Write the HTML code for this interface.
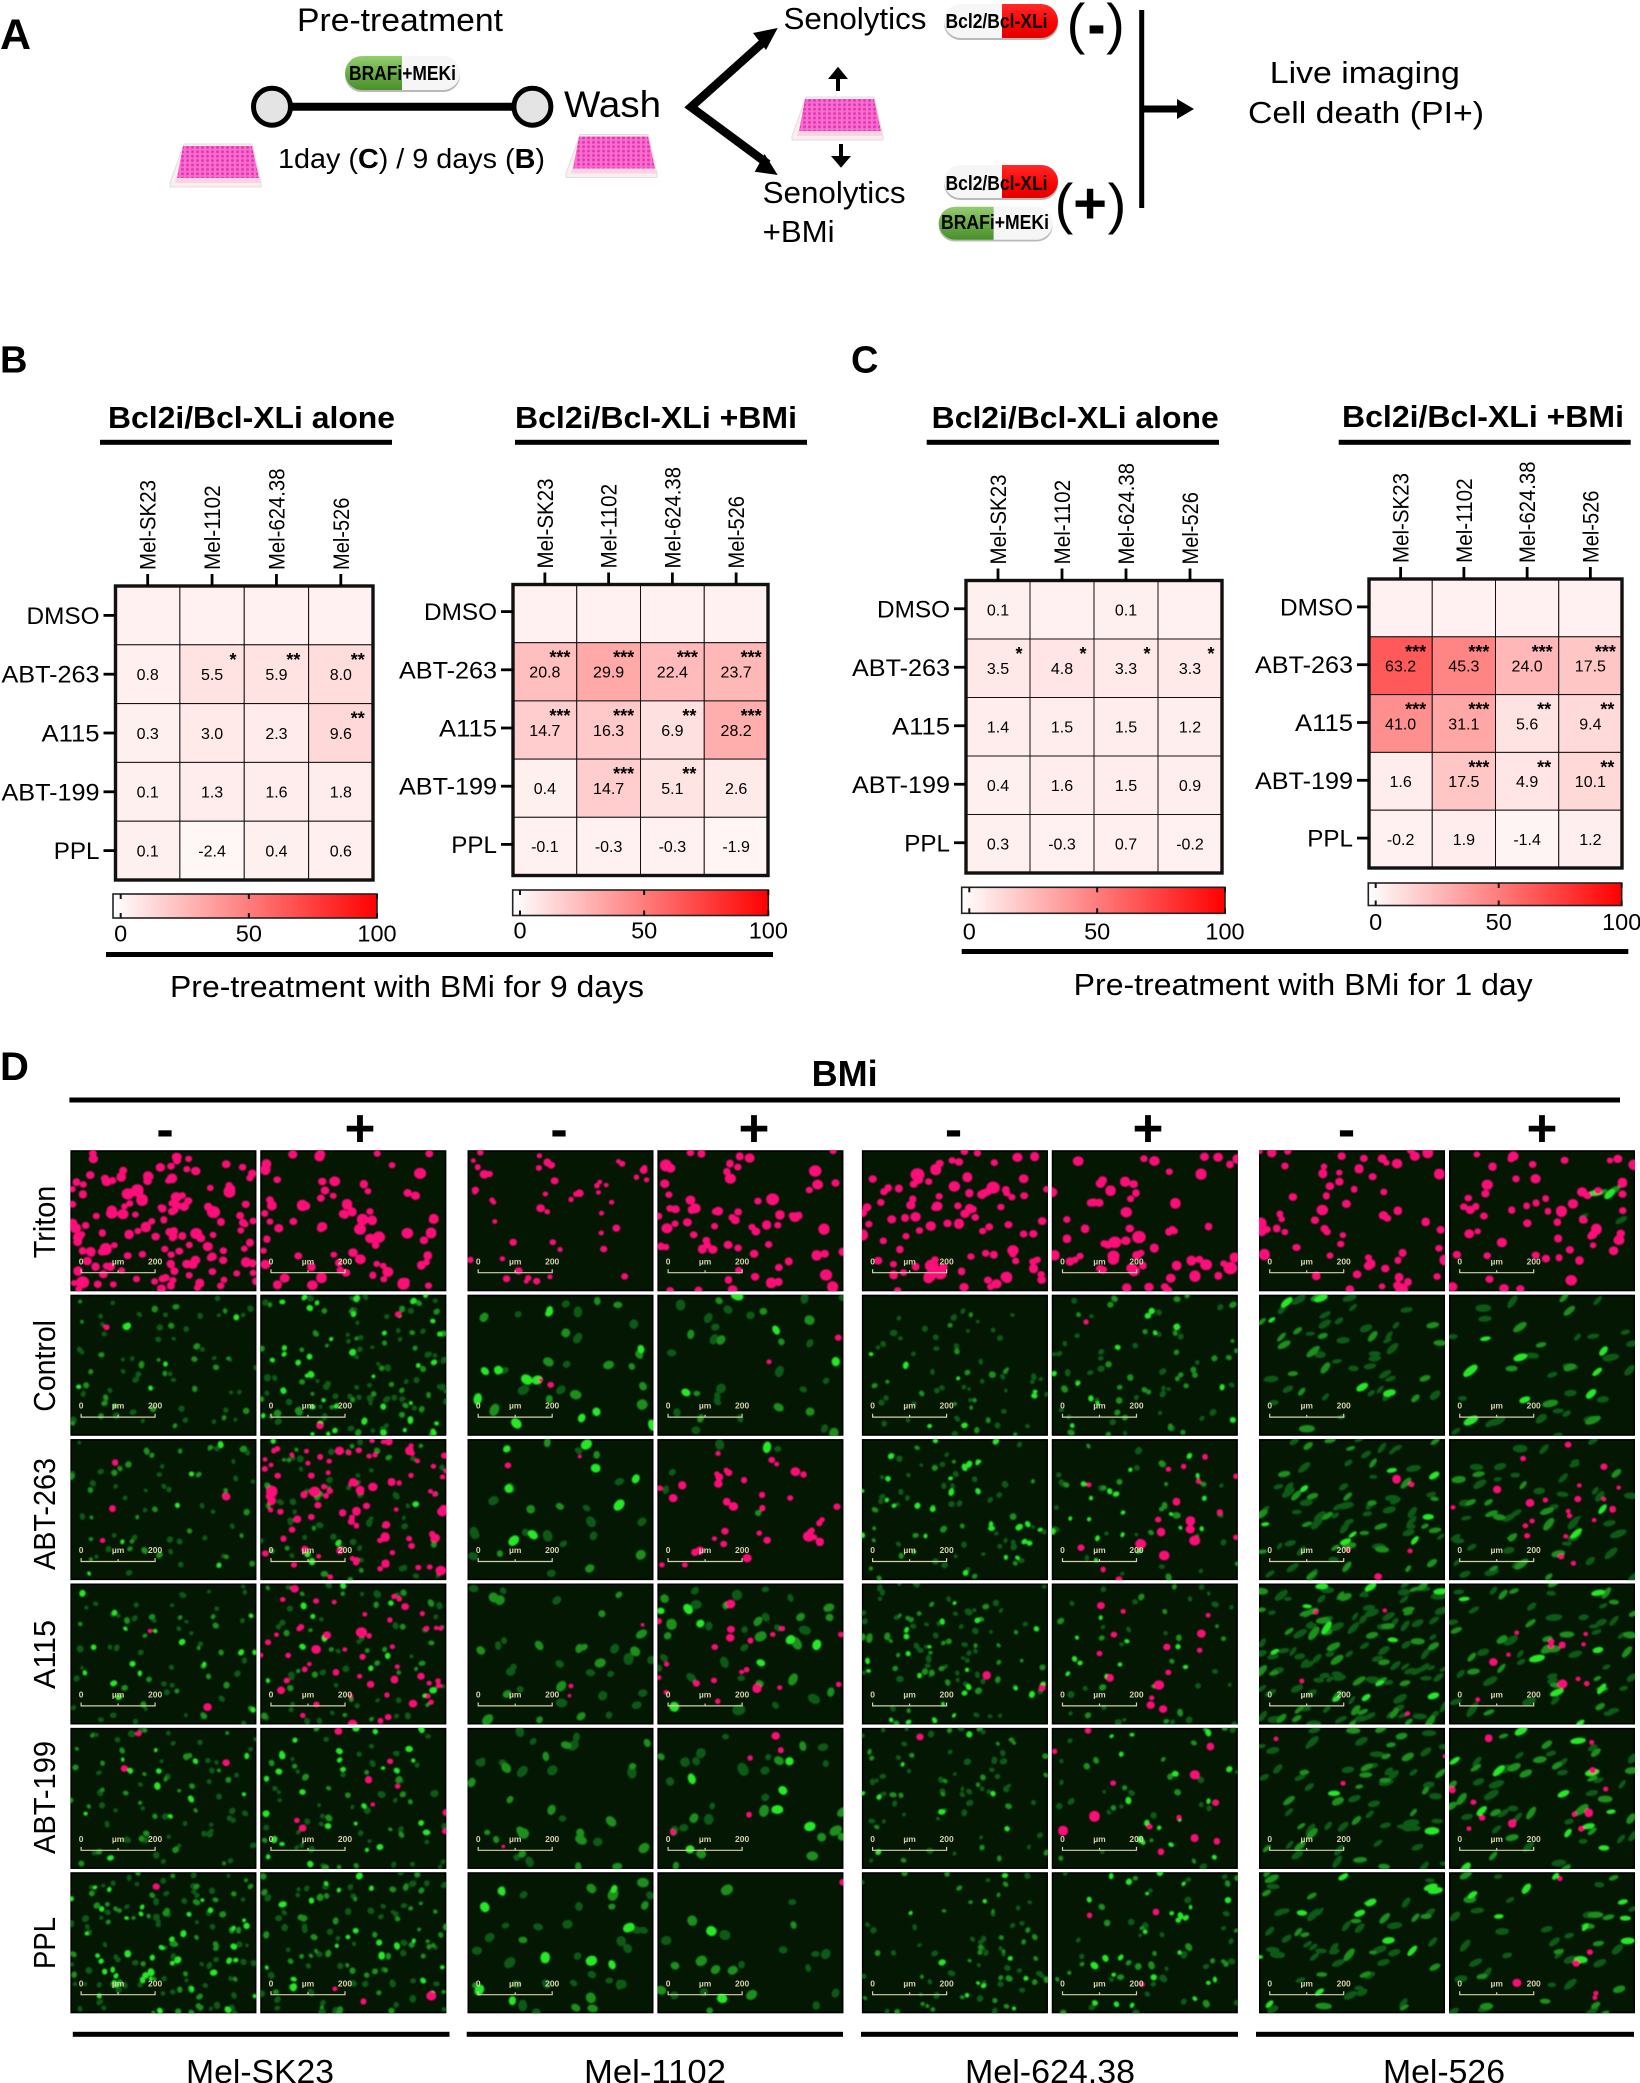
<!DOCTYPE html>
<html lang="en">
<head>
<meta charset="utf-8">
<title>Senolytic treatment after BRAFi+MEKi pre-treatment</title>
<style>
html,body{margin:0;padding:0;background:#fff;width:1640px;height:2083px;overflow:hidden}
svg{display:block}
text{font-family:"Liberation Sans",Arial,sans-serif;fill:#000}
</style>
</head>
<body>
<svg id="figure" xmlns="http://www.w3.org/2000/svg" width="1640" height="2083" viewBox="0 0 1640 2083">
<defs>
<pattern id="wells" width="5" height="4.4" patternUnits="userSpaceOnUse"><rect width="5" height="4.4" fill="#fb6ccf"/><circle cx="2.5" cy="2.2" r="1.5" fill="#e03ab2"/></pattern>
<linearGradient id="cbGrad" x1="0" x2="1" y1="0" y2="0"><stop offset="0" stop-color="#fff"/><stop offset="1" stop-color="#f00"/></linearGradient>
<linearGradient id="greenPill" x1="0" x2="0" y1="0" y2="1"><stop offset="0" stop-color="#94cc70"/><stop offset=".55" stop-color="#66ab42"/><stop offset="1" stop-color="#4b8f2c"/></linearGradient>
<linearGradient id="redPill" x1="0" x2="0" y1="0" y2="1"><stop offset="0" stop-color="#ff2a2a"/><stop offset=".6" stop-color="#f00"/><stop offset="1" stop-color="#e00000"/></linearGradient>
<filter id="soft" x="-5%" y="-5%" width="110%" height="110%"><feGaussianBlur stdDeviation=".75"/></filter>
</defs>

<!-- Panel letters -->
<text x="0" y="49" font-size="43" font-weight="700">A</text>
<text x="0" y="372.500" font-size="38" font-weight="700">B</text>
<text x="851" y="372.500" font-size="38" font-weight="700">C</text>
<text x="0" y="1080" font-size="40" font-weight="700">D</text>

<!-- Panel A schematic -->
<g>
<text x="297" y="31" font-size="32" textLength="206" lengthAdjust="spacingAndGlyphs">Pre-treatment</text>
<g>
<rect x="345" y="59" width="115" height="33" rx="16.5" fill="#b9b9b9"/>
<rect x="345" y="56" width="115" height="34" rx="17" fill="#f6f6f6"/>
<path d="M402 56H362a17 17 0 0 0 0 34h40z" fill="url(#greenPill)"/>
<text x="349" y="80" font-size="20" font-weight="700" fill="#111" textLength="107" lengthAdjust="spacingAndGlyphs">BRAFi+MEKi</text>
</g>
<line x1="272" y1="106.7" x2="532" y2="106.7" stroke="#000" stroke-width="8"/>
<circle cx="272" cy="106.7" r="18.5" fill="#e4e4e4" stroke="#000" stroke-width="5"/>
<circle cx="532.4" cy="106.7" r="18.5" fill="#e4e4e4" stroke="#000" stroke-width="5"/>
<text x="564" y="117" font-size="37" textLength="97" lengthAdjust="spacingAndGlyphs">Wash</text>
<text x="278" y="168" font-size="28" textLength="267" lengthAdjust="spacingAndGlyphs">1day (<tspan font-weight="700">C</tspan>) / 9 days (<tspan font-weight="700">B</tspan>)</text>

<g transform="translate(0,0)">
<polygon points="184,144 252,144 261,183 261,187 170,187 170,183" fill="#f9efef" stroke="#e3dcdc"/>
<polygon points="183,146 252,146 259,178 177,178" fill="url(#wells)"/>
<polygon points="176,178 260,178 261,183 175,183" fill="#fbd4e4"/>
</g>
<g transform="translate(396,-9.5)">
<polygon points="184,144 252,144 261,183 261,187 170,187 170,183" fill="#f9efef" stroke="#e3dcdc"/>
<polygon points="183,146 252,146 259,178 177,178" fill="url(#wells)"/>
<polygon points="176,178 260,178 261,183 175,183" fill="#fbd4e4"/>
</g>
<g transform="translate(622,-47)">
<polygon points="184,144 252,144 261,183 261,187 170,187 170,183" fill="#f9efef" stroke="#e3dcdc"/>
<polygon points="183,146 252,146 259,178 177,178" fill="url(#wells)"/>
<polygon points="176,178 260,178 261,183 175,183" fill="#fbd4e4"/>
</g>

<polyline points="768,38 691,107 768,164" fill="none" stroke="#000" stroke-width="8.5"/>
<polygon points="777.7,28 753,33 766,50" fill="#000"/>
<polygon points="777.7,175 764.6,154 754.7,171.7" fill="#000"/>

<text x="783.5" y="29" font-size="31" textLength="143" lengthAdjust="spacingAndGlyphs">Senolytics</text>
<text x="762.6" y="203" font-size="31" textLength="143" lengthAdjust="spacingAndGlyphs">Senolytics</text>
<text x="762.6" y="242" font-size="31" textLength="72" lengthAdjust="spacingAndGlyphs">+BMi</text>

<g><polygon points="838,66.7 828,79 848,79" fill="#000"/><rect x="836" y="78" width="4" height="13" fill="#000"/></g>
<g><polygon points="841,167.7 831,156 851,156" fill="#000"/><rect x="839" y="144" width="4" height="13" fill="#000"/></g>

<g>
<rect x="944" y="7" width="114" height="33" rx="16.5" fill="#b9b9b9"/>
<rect x="944" y="4" width="114" height="34" rx="17" fill="#f6f6f6"/>
<path d="M1002 4h39a17 17 0 0 1 0 34h-39z" fill="url(#redPill)"/>
<text x="945.5" y="28" font-size="20" font-weight="700" fill="#111" textLength="102" lengthAdjust="spacingAndGlyphs">Bcl2/Bcl-XLi</text>
</g>
<g>
<rect x="944" y="168" width="114" height="32" rx="16" fill="#b9b9b9"/>
<rect x="944" y="165" width="114" height="33" rx="16.5" fill="#f6f6f6"/>
<path d="M1002 165h39.500a16.500 16.500 0 0 1 0 33h-39.500z" fill="url(#redPill)"/>
<text x="945.5" y="190" font-size="20" font-weight="700" fill="#111" textLength="102" lengthAdjust="spacingAndGlyphs">Bcl2/Bcl-XLi</text>
</g>
<g>
<rect x="938.700" y="209.500" width="114" height="32" rx="16" fill="#b9b9b9"/>
<rect x="938.700" y="206.700" width="114" height="33" rx="16.500" fill="#f6f6f6"/>
<path d="M993.600 206.700h-38.400a16.500 16.500 0 0 0 0 33h38.400z" fill="url(#greenPill)"/>
<text x="941" y="229" font-size="20" font-weight="700" fill="#111" textLength="108" lengthAdjust="spacingAndGlyphs">BRAFi+MEKi</text>
</g>

<g>
<text x="1076" y="43" font-size="56" text-anchor="middle">(</text>
<text x="1096.500" y="47" font-size="68" font-weight="700" text-anchor="middle" textLength="18" lengthAdjust="spacingAndGlyphs">-</text>
<text x="1115.500" y="43" font-size="56" text-anchor="middle">)</text>
</g>
<g>
<text x="1064" y="223" font-size="56" text-anchor="middle">(</text>
<text x="1090" y="223" font-size="58" font-weight="700" text-anchor="middle">+</text>
<text x="1117" y="223" font-size="56" text-anchor="middle">)</text>
</g>

<rect x="1139.200" y="10" width="5" height="198" fill="#000"/>
<g><rect x="1141" y="105.500" width="38" height="7" fill="#000"/><polygon points="1194,109 1177,99 1177,119" fill="#000"/></g>
<text x="1269.800" y="83" font-size="31" textLength="190" lengthAdjust="spacingAndGlyphs">Live imaging</text>
<text x="1248" y="123" font-size="31" textLength="236" lengthAdjust="spacingAndGlyphs">Cell death (PI+)</text>
</g>

<!-- Panels B and C headings -->
<text x="108" y="428" font-size="31" font-weight="700" textLength="287" lengthAdjust="spacingAndGlyphs">Bcl2i/Bcl-XLi alone</text>
<rect x="100" y="439.800" width="292" height="5" fill="#000"/>
<text x="515" y="428" font-size="31" font-weight="700" textLength="282" lengthAdjust="spacingAndGlyphs">Bcl2i/Bcl-XLi +BMi</text>
<rect x="515" y="439.800" width="292" height="5" fill="#000"/>
<text x="931.700" y="428" font-size="31" font-weight="700" textLength="287" lengthAdjust="spacingAndGlyphs">Bcl2i/Bcl-XLi alone</text>
<rect x="926.700" y="439.800" width="292.300" height="5" fill="#000"/>
<text x="1342" y="427" font-size="31" font-weight="700" textLength="282" lengthAdjust="spacingAndGlyphs">Bcl2i/Bcl-XLi +BMi</text>
<rect x="1338.700" y="439.800" width="292" height="5" fill="#000"/>

<rect x="106" y="952" width="667" height="5" fill="#000"/>
<text x="170" y="997" font-size="31" textLength="474" lengthAdjust="spacingAndGlyphs">Pre-treatment with BMi for 9 days</text>
<rect x="961.700" y="949" width="666.600" height="5" fill="#000"/>
<text x="1073.700" y="995" font-size="31" textLength="459" lengthAdjust="spacingAndGlyphs">Pre-treatment with BMi for 1 day</text>

<g id="heatmaps"></g>

<!-- Panel D headings -->
<text x="844.600" y="1086" font-size="36" font-weight="700" text-anchor="middle">BMi</text>
<rect x="69.400" y="1097.500" width="1550.600" height="5" fill="#000"/>
<text x="165" y="1147" font-size="52" font-weight="700" text-anchor="middle">-</text>
<text x="360" y="1146" font-size="53" font-weight="700" text-anchor="middle">+</text>
<text x="559" y="1147" font-size="52" font-weight="700" text-anchor="middle">-</text>
<text x="754" y="1146" font-size="53" font-weight="700" text-anchor="middle">+</text>
<text x="953.500" y="1147" font-size="52" font-weight="700" text-anchor="middle">-</text>
<text x="1148" y="1146" font-size="53" font-weight="700" text-anchor="middle">+</text>
<text x="1346.600" y="1147" font-size="52" font-weight="700" text-anchor="middle">-</text>
<text x="1542" y="1146" font-size="53" font-weight="700" text-anchor="middle">+</text>

<text transform="translate(55,1258.300) rotate(-90)" font-size="31" textLength="72.600" lengthAdjust="spacingAndGlyphs">Triton</text>
<text transform="translate(55,1411.700) rotate(-90)" font-size="31" textLength="91.700" lengthAdjust="spacingAndGlyphs">Control</text>
<text transform="translate(55,1570) rotate(-90)" font-size="31" textLength="112" lengthAdjust="spacingAndGlyphs">ABT-263</text>
<text transform="translate(55,1689) rotate(-90)" font-size="31" textLength="69" lengthAdjust="spacingAndGlyphs">A115</text>
<text transform="translate(55,1854) rotate(-90)" font-size="31" textLength="113" lengthAdjust="spacingAndGlyphs">ABT-199</text>
<text transform="translate(55,1969) rotate(-90)" font-size="31" textLength="52" lengthAdjust="spacingAndGlyphs">PPL</text>

<g id="micrographs"></g>

<rect x="72.800" y="2031.800" width="376.700" height="5" fill="#000"/>
<rect x="466.700" y="2031.800" width="376.300" height="5" fill="#000"/>
<rect x="861" y="2031.800" width="377" height="5" fill="#000"/>
<rect x="1256" y="2031.800" width="378" height="5" fill="#000"/>
<text x="186" y="2083" font-size="33" textLength="148" lengthAdjust="spacingAndGlyphs">Mel-SK23</text>
<text x="584" y="2083" font-size="33" textLength="142" lengthAdjust="spacingAndGlyphs">Mel-1102</text>
<text x="965" y="2083" font-size="33" textLength="170" lengthAdjust="spacingAndGlyphs">Mel-624.38</text>
<text x="1383" y="2083" font-size="33" textLength="122" lengthAdjust="spacingAndGlyphs">Mel-526</text>
</svg>

<script>
// ---- Heatmap data ----
const cellLines = ['Mel-SK23', 'Mel-1102', 'Mel-624.38', 'Mel-526'];
const treatments = ['DMSO', 'ABT-263', 'A115', 'ABT-199', 'PPL'];
const colorbarTicks = [0, 50, 100];
const colorbarDomain = [-6, 100];

const valuesB9Alone = [[null, null, null, null], [0.8, 5.5, 5.9, 8.0], [0.3, 3.0, 2.3, 9.6], [0.1, 1.3, 1.6, 1.8], [0.1, -2.4, 0.4, 0.6]];
const starsB9Alone = [['', '', '', ''], ['', '*', '**', '**'], ['', '', '', '**'], ['', '', '', ''], ['', '', '', '']];
const valuesB9Combo = [[null, null, null, null], [20.8, 29.9, 22.4, 23.7], [14.7, 16.3, 6.9, 28.2], [0.4, 14.7, 5.1, 2.6], [-0.1, -0.3, -0.3, -1.9]];
const starsB9Combo = [['', '', '', ''], ['***', '***', '***', '***'], ['***', '***', '**', '***'], ['', '***', '**', ''], ['', '', '', '']];
const valuesC1Alone = [[0.1, null, 0.1, null], [3.5, 4.8, 3.3, 3.3], [1.4, 1.5, 1.5, 1.2], [0.4, 1.6, 1.5, 0.9], [0.3, -0.3, 0.7, -0.2]];
const starsC1Alone = [['', '', '', ''], ['*', '*', '*', '*'], ['', '', '', ''], ['', '', '', ''], ['', '', '', '']];
const valuesC1Combo = [[null, null, null, null], [63.2, 45.3, 24.0, 17.5], [41.0, 31.1, 5.6, 9.4], [1.6, 17.5, 4.9, 10.1], [-0.2, 1.9, -1.4, 1.2]];
const starsC1Combo = [['', '', '', ''], ['***', '***', '***', '***'], ['***', '***', '**', '**'], ['', '***', '**', '**'], ['', '', '', '']];

// ---- Micrograph density maps: dots per cell of a 6x4 grid ----
const pinkDensity = [
 '564715/465934/965966/754996','010000/000000/000000/000000','010000/010001/010000/000000','000000/001000/000000/000010','001001/010000/000000/000000','001000/000000/000000/000000',
 '341212/336413/433414/333533','000010/000000/000000/010000','544544/545454/333333/133333','121131/232223/321324/122132','001010/000110/020102/000000','000000/000000/000000/001101',
 '605044/403340/112030/152001','000000/000000/002000/000000','010100/000000/000000/000000','000000/000001/000100/000100','000000/000000/000000/010000','000000/000000/000000/000000',
 '326004/453340/562605/113412','000000/000101/000000/000000','022210/323221/012234/221000','001000/112211/222201/110000','001200/000000/101000/000000','000001/000000/000000/000000',
 '134413/654862/333353/157365','000000/000000/000000/000000','000000/000000/000000/000000','000000/000000/000011/000000','010000/000000/000000/000000','000000/000000/000000/000000',
 '123223/243100/246401/334454','010000/000000/000000/000000','000120/010021/001232/111100','011001/011120/010200/000300','110001/010010/110111/000111','000000/010100/000000/001000',
 '405433/224140/625013/011562','000000/000000/000000/000000','000000/000020/000000/001110','010010/000000/010000/000010','100001/001000/000000/000000','000000/000000/000000/000000',
 '125104/423462/322343/121310','000000/000000/000000/000000','001110/111123/003310/000110','000000/001320/020120/100000','010010/100011/211030/000000','000100/000000/000020/001020'
];
const greenDensity = [
 '0','343443/333332/433323/333333','333343/323333/333323/332222','333333/344443/333333/223333','444444/344443/344444/334333','566665/666666/677877/677867',
 '0','344555/445667/556777/566777','343322/343322/343322/343322','333333/333333/333333/333333','343443/444443/444443/443433','455555/455555/455565/554455',
 '0','112221/001312/332202/110112','011220/122121/222211/111101','221020/211212/021222/121222','222301/121002/131210/121221','130233/121113/111221/232331',
 '0','132221/121211/121111/131112','101200/100000/000100/000000','322222/222331/212210/101102','221221/111211/230212/120012','001010/121010/122022/221102',
 '0','013310/332420/323756/222541','135511/667331/422267/222542','463421/679832/349943/234322','443561/645661/323221/212213','111342/221345/233674/234664',
 '0','221332/432434/544652/434322','013110/452331/334242/022211','122223/223122/331222/222221','223123/122222/222322/112221','132344/113544/334544/233333',
 '0','444221/243331/222543/111000','133441/344333/355455/344211','545666/557566/566666/566665','230453/232454/233453/232213','411213/451334/345431/222220',
 '000000/000033/000000/000000','022210/113033/202431/222420','211131/423331/333432/332212','322333/232444/322343/211222','213332/342342/343233/112222','321112/220344/230331/220322'
];
const brightShare = [0, .1, .05, .22, .16, .22, 0, .25, .16, .16, .22, .2, 0, .25, .2, .06, .1, .2, 0, .12, .2, .22, .12, .12, 0, .12, .35, .3, .16, .1, 0, .12, .38, .2, .32, .38, 0, .06, .1, .12, .05, .22, .5, .32, .08, .1, .22, .16];

const NS = 'http://www.w3.org/2000/svg';
function make(tag, parent) {
  const node = document.createElementNS(NS, tag);
  parent.appendChild(node);
  return node;
}
function setAll(node, props) {
  for (const key in props) node.setAttribute(key, props[key]);
}

// ---- Scales ----
function cellColor(v) {
  const t = ((v === null ? 0 : v) - colorbarDomain[0]) / (colorbarDomain[1] - colorbarDomain[0]);
  const c = Math.round(255 * (1 - t));
  return 'rgb(255,' + c + ',' + c + ')';
}
function linearScale(d0, d1, r0, r1) {
  return function (v) { return r0 + (v - d0) / (d1 - d0) * (r1 - r0); };
}

function drawHeatmap(spec, values, stars) {
  const host = document.getElementById('heatmaps');
  const group = make('g', host);
  
  
  group.setAttribute('aria-label', spec.label);
  const colBand = (spec.x1 - spec.x0) / cellLines.length;
  const rowBand = (spec.y1 - spec.y0) / treatments.length;
  const xAxis = linearScale(0, cellLines.length, spec.x0, spec.x1);
  const yAxis = linearScale(0, treatments.length, spec.y0, spec.y1);

  values.forEach(function (row, r) {
    row.forEach(function (v, c) {
      const cell = make('rect', group);
      
      
      setAll(cell, { x: xAxis(c), y: yAxis(r), width: colBand, height: rowBand, fill: cellColor(v), stroke: '#111', 'stroke-width': 1 });
      const cx = xAxis(c + .5), cy = yAxis(r + .5);
      if (v !== null) {
        const label = make('text', group);
        
        
        setAll(label, { x: cx, y: cy + 5.8, 'font-size': 16, 'text-anchor': 'middle' });
        label.textContent = v.toFixed(1);
      }
      if (stars[r][c]) {
        const mark = make('text', group);
        
        
        const shift = { 1: 21, 2: 17, 3: 15 }[stars[r][c].length];
        setAll(mark, { x: cx + shift, y: yAxis(r) + 21, 'font-size': 18, 'font-weight': 700, 'text-anchor': 'middle' });
        mark.textContent = stars[r][c];
      }
    });
  });

  const frame = make('rect', group);
  
  
  setAll(frame, { x: spec.x0, y: spec.y0, width: spec.x1 - spec.x0, height: spec.y1 - spec.y0, fill: 'none', stroke: '#111', 'stroke-width': 3.4 });

  const rowLabelLength = [73, 98, 58, 98, 45.7];
  treatments.forEach(function (name, r) {
    const tick = make('line', group);
    
    
    const cy = yAxis(r + .5) - spec.labelLift;
    setAll(tick, { x1: spec.x0 - 12, x2: spec.x0, y1: cy, y2: cy, stroke: '#000', 'stroke-width': 2.8 });
    const label = make('text', group);
    
    
    setAll(label, { x: spec.x0 - 16 - rowLabelLength[r], y: cy + 8.5, 'font-size': 24.5, textLength: rowLabelLength[r], lengthAdjust: 'spacingAndGlyphs' });
    label.textContent = name;
  });

  const columnLabelLength = [90, 84.6, 101.5, 72.4];
  cellLines.forEach(function (name, c) {
    const cx = xAxis(c + .5);
    const tick = make('line', group);
    
    
    setAll(tick, { x1: cx, x2: cx, y1: spec.y0 - 12, y2: spec.y0, stroke: '#000', 'stroke-width': 2.8 });
    const label = make('text', group);
    
    
    setAll(label, { transform: 'translate(' + (cx + 8) + ',' + (spec.y0 - 16) + ') rotate(-90)', 'font-size': 22.5, textLength: columnLabelLength[c], lengthAdjust: 'spacingAndGlyphs' });
    label.textContent = name;
  });

  const bar = make('rect', group);
  
  
  setAll(bar, { x: spec.barX0, y: spec.barY0, width: spec.barX1 - spec.barX0, height: spec.barY1 - spec.barY0, fill: 'url(#cbGrad)', stroke: '#222', 'stroke-width': 1.6 });
  const barAxis = linearScale(0, 100, spec.bar0, spec.barX1);
  colorbarTicks.forEach(function (t) {
    const x = barAxis(t);
    const top = make('line', group);
    
    
    setAll(top, { x1: x, x2: x, y1: spec.barY0, y2: spec.barY0 + 5, stroke: '#111', 'stroke-width': 2 });
    const bottom = make('line', group);
    
    
    setAll(bottom, { x1: x, x2: x, y1: spec.barY1 - 5, y2: spec.barY1, stroke: '#111', 'stroke-width': 2 });
    const label = make('text', group);
    
    
    setAll(label, { x: x, y: spec.barLabelY + 8.5, 'font-size': 23.5, 'text-anchor': 'middle' });
    label.textContent = String(t);
  });
}

drawHeatmap({ label: 'B alone', x0: 115.5, x1: 373, y0: 586, y1: 880, labelLift: 0, bar0: 120.7, barX0: 113, barX1: 377, barY0: 894, barY1: 918, barLabelY: 933 }, valuesB9Alone, starsB9Alone);
drawHeatmap({ label: 'B combination', x0: 513, x1: 768, y0: 584.5, y1: 875.5, labelLift: 2, bar0: 520, barX0: 512.7, barX1: 768.3, barY0: 890, barY1: 915.5, barLabelY: 930 }, valuesB9Combo, starsB9Combo);
drawHeatmap({ label: 'C alone', x0: 966, x1: 1222, y0: 580.5, y1: 873, labelLift: 1, bar0: 969.3, barX0: 961.7, barX1: 1225, barY0: 887.3, barY1: 913.3, barLabelY: 931 }, valuesC1Alone, starsC1Alone);
drawHeatmap({ label: 'C combination', x0: 1369, x1: 1622, y0: 579, y1: 868, labelLift: 1, bar0: 1375.7, barX0: 1368.3, barX1: 1621.7, barY0: 883, barY1: 905.5, barLabelY: 921.5 }, valuesC1Combo, starsC1Combo);

// ---- Micrographs ----
const panelLeft = [70.4, 260.3, 467.5, 657.4, 861.9, 1051.8, 1259, 1449];
const panelTop = 1150.3, panelPitch = 144.4, panelW = 186, panelH = 141;
const greenSize = [2.3, 2.4, 3.6, 3.6, 2.2, 2.3, 2.6, 2.7];
const greenStretch = [1.2, 1.2, 1.3, 1.3, 1.25, 1.25, 2.2, 2.2];
const pinkSize = [1, 1, .72, 1.05, 1.05, 1.05, .95, .95];
let seed = 91357;
function nextRand() {
  seed = (seed * 1664525 + 1013904223) % 4294967296;
  return seed / 4294967296;
}
function blob(x, y, rx, ry, deg) {
  const t = deg * Math.PI / 180, dx = rx * Math.cos(t), dy = rx * Math.sin(t);
  return 'M' + (x - dx).toFixed(1) + ' ' + (y - dy).toFixed(1) +
    'A' + rx.toFixed(1) + ' ' + ry.toFixed(1) + ' ' + deg.toFixed(0) + ' 1 0 ' + (x + dx).toFixed(1) + ' ' + (y + dy).toFixed(1) +
    'A' + rx.toFixed(1) + ' ' + ry.toFixed(1) + ' ' + deg.toFixed(0) + ' 1 0 ' + (x - dx).toFixed(1) + ' ' + (y - dy).toFixed(1) + 'Z';
}
function forEachDot(map, visit) {
  const digits = map.replace(/\//g, '');
  for (let i = 0; i < digits.length; i++) {
    const n = +digits[i];
    const col = i % 6, row = Math.floor(i / 6);
    for (let k = 0; k < n; k++) {
      visit((col + nextRand()) * panelW / 6, (row + nextRand()) * panelH / 4);
    }
  }
}
const gridHost = document.getElementById('micrographs');
panelLeft.forEach(function (left, c) {
  for (let r = 0; r < 6; r++) {
    const idx = c * 6 + r;
    const panel = make('svg', gridHost);
    
    
    setAll(panel, { x: left, y: panelTop + r * panelPitch, width: panelW, height: panelH, viewBox: '0 0 ' + panelW + ' ' + panelH });
    const bg = make('rect', panel);
    
    
    setAll(bg, { width: panelW, height: panelH, fill: '#031703', stroke: '#000', 'stroke-width': 3 });

    const dim = [], mid = [], bright = [], pink = [];
    forEachDot(greenDensity[idx], function (x, y) {
      const rad = greenSize[c] * (.75 + .55 * nextRand());
      const stretch = greenStretch[c] * (.85 + .3 * nextRand());
      const deg = c >= 6 ? -25 + 30 * (nextRand() - .5) * 2 : nextRand() * 180;
      const roll = nextRand();
      const shape = blob(x, y, rad * stretch, rad, deg);
      if (roll < brightShare[idx]) bright.push(shape);
      else if (roll < brightShare[idx] + (1 - brightShare[idx]) * .4) mid.push(shape);
      else dim.push(shape);
    });
    forEachDot(pinkDensity[idx], function (x, y) {
      const big = r === 0 ? 3.1 : 2.2;
      const rad = (big + nextRand() * nextRand() * 3.2) * pinkSize[c];
      pink.push(blob(x, y, rad * 1.1, rad, 0));
    });

    const cells = make('g', panel);
    
    
    cells.setAttribute('filter', 'url(#soft)');
    [[dim, '#115a16'], [mid, '#1a8f1c'], [bright, '#28e828'], [pink, '#ff0a78']].forEach(function (layer) {
      if (!layer[0].length) return;
      const path = make('path', cells);
      
      
      setAll(path, { d: layer[0].join(''), fill: layer[1] });
    });

    const scale = make('path', panel);
    
    
    setAll(scale, { d: 'M10.7 119V122.4H84.7V119M47.7 122.4V120', fill: 'none', stroke: '#d6d2a8', 'stroke-width': 1.2 });
    [['0', 10.7], ['µm', 47.7], ['200', 84.7]].forEach(function (item) {
      const label = make('text', panel);
      
      
      setAll(label, { x: item[1], y: 114, 'font-size': 8.5, 'font-weight': 700, 'text-anchor': 'middle' });
      label.style.fill = '#d6d2a8';
      label.textContent = item[0];
    });
  }
});
</script>
</body>
</html>
